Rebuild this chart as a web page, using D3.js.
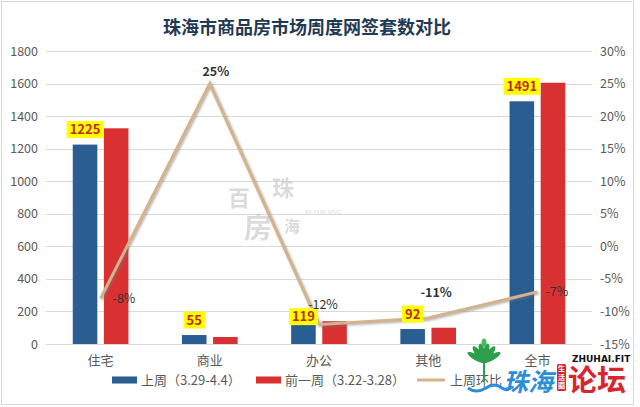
<!DOCTYPE html>
<html>
<head>
<meta charset="utf-8">
<script src="https://cdn.jsdelivr.net/npm/d3@7"></script>
<style>
  html, body { margin: 0; padding: 0; background: #fff; }
  svg text { font-family: "Noto Sans CJK SC", "Noto Sans", sans-serif; }
</style>
</head>
<body>
<div id="chart"></div>
<script>
// data
const categories = ["住宅", "商业", "办公", "其他", "全市"];
const thisWeek = [1225, 55, 119, 92, 1491];
const lastWeek = [1325, 43, 140, 100, 1605];
const weekChange = [-0.08, 0.25, -0.12, -0.11, -0.07];
const leftTicks = [0, 200, 400, 600, 800, 1000, 1200, 1400, 1600, 1800];
const rightTicks = [-0.15, -0.10, -0.05, 0, 0.05, 0.10, 0.15, 0.20, 0.25, 0.30];
const seriesNames = ["上周（3.29-4.4）", "前一周（3.22-3.28）", "上周环比"];
const title = "珠海市商品房市场周度网签套数对比";

const W = 640, H = 407;
const plot = {left: 46, right: 592, top: 51, bottom: 344};
const blue = "#2a5d90", red = "#d93132", tan = "#d3b38c";
const axisGrey = "#595959", gridGrey = "#d9d9d9";

const svg = d3.select("#chart")
    .append("svg")
    .attr("width", W)
    .attr("height", H);

// shadow for the line
const defs = svg.append("defs");
const f = defs.append("filter").attr("id", "shadow")
    .attr("x", "-10%").attr("y", "-10%").attr("width", "120%").attr("height", "120%");
f.append("feDropShadow").attr("dx", 1.2).attr("dy", 1.2).attr("stdDeviation", 0.8)
    .attr("flood-color", "#777").attr("flood-opacity", 0.6);

// frame
svg.append("rect")
    .attr("x", 1.5).attr("y", 1.5)
    .attr("width", 632).attr("height", 403)
    .attr("fill", "#fff")
    .attr("stroke", gridGrey);

// title
svg.append("text")
    .attr("x", 307).attr("y", 34)
    .attr("text-anchor", "middle")
    .attr("font-size", 18)
    .attr("font-weight", "bold")
    .attr("fill", "#1f3a55")
    .text(title);

// scales
const x = d3.scaleBand()
    .domain(categories)
    .range([plot.left, plot.right])
    .paddingInner(0.49)
    .paddingOuter(0.245);

const xSub = d3.scaleBand()
    .domain([0, 1])
    .range([0, x.bandwidth()])
    .paddingInner(0.21);

const yLeft = d3.scaleLinear().domain([0, 1800]).range([plot.bottom, plot.top]);
const yRight = d3.scaleLinear().domain([-0.15, 0.30]).range([plot.bottom, plot.top]);

// gridlines
svg.append("g")
    .selectAll("line")
    .data(leftTicks)
    .join("line")
    .attr("x1", plot.left).attr("x2", plot.right)
    .attr("y1", d => Math.round(yLeft(d)) + 0.5)
    .attr("y2", d => Math.round(yLeft(d)) + 0.5)
    .attr("stroke", gridGrey)
    .attr("stroke-width", 1);

// left axis
const leftAxis = svg.append("g")
    .attr("transform", `translate(${plot.left - 8},0)`)
    .call(d3.axisLeft(yLeft).tickValues(leftTicks).tickSize(0).tickPadding(0)
        .tickFormat(d3.format("d")));
leftAxis.select(".domain").remove();
leftAxis.selectAll("text")
    .attr("font-size", 12.5)
    .attr("fill", axisGrey)
    .style("font-family", "'Noto Sans CJK SC', sans-serif");

// right axis
const rightAxis = svg.append("g")
    .attr("transform", `translate(${plot.right + 8},0)`)
    .call(d3.axisRight(yRight).tickValues(rightTicks).tickSize(0).tickPadding(0)
        .tickFormat(d => Math.round(d * 100) + "%"));
rightAxis.select(".domain").remove();
rightAxis.selectAll("text")
    .attr("font-size", 12.5)
    .attr("fill", axisGrey)
    .style("font-family", "'Noto Sans CJK SC', sans-serif");

// category axis
const bottomAxis = svg.append("g")
    .attr("transform", `translate(0,${plot.bottom})`)
    .call(d3.axisBottom(x).tickSize(0).tickPadding(12));
bottomAxis.select(".domain").remove();
bottomAxis.selectAll("text")
    .attr("font-size", 13)
    .attr("fill", axisGrey)
    .style("font-family", "'Noto Sans CJK SC', sans-serif");

// watermark in the middle
const wm = svg.append("g").attr("fill", "#cfcfcf").attr("opacity", 0.75)
    .attr("font-weight", "bold");
wm.append("text").attr("x", 228).attr("y", 206).attr("font-size", 22).text("百");
wm.append("text").attr("x", 244).attr("y", 238).attr("font-size", 28).text("房");
wm.append("text").attr("x", 272).attr("y", 196).attr("font-size", 22).text("珠");
wm.append("text").attr("x", 284).attr("y", 232).attr("font-size", 16).text("海");
wm.append("text").attr("x", 305).attr("y", 214).attr("font-size", 5)
    .attr("font-weight", "normal").text("BAI FANG NEWS");

// bars
const rows = categories.map((c, i) => ({cat: c, vals: [thisWeek[i], lastWeek[i]]}));
const groups = svg.append("g")
    .selectAll("g")
    .data(rows)
    .join("g")
    .attr("transform", d => `translate(${x(d.cat)},0)`);

groups.selectAll("rect")
    .data(d => d.vals.map((v, k) => ({k: k, v: v})))
    .join("rect")
    .attr("x", d => xSub(d.k))
    .attr("width", xSub.bandwidth())
    .attr("y", d => yLeft(d.v))
    .attr("height", d => plot.bottom - yLeft(d.v))
    .attr("fill", d => d.k === 0 ? blue : red);

// line (secondary axis)
const cx = c => x(c) + x.bandwidth() / 2;
const line = d3.line()
    .x((d, i) => cx(categories[i]))
    .y(d => yRight(d));

svg.append("path")
    .datum(weekChange)
    .attr("d", line)
    .attr("fill", "none")
    .attr("stroke", tan)
    .attr("stroke-width", 3)
    .attr("stroke-linejoin", "miter")
    .attr("filter", "url(#shadow)");

// yellow labels over this week's bars (the 办公 one sits lower, as in the original)
const boxLift = [15, 15, 8, 15, 15];
const labels = svg.append("g")
    .selectAll("g")
    .data(rows)
    .join("g")
    .attr("transform", (d, i) => `translate(${x(d.cat) + xSub(0) + xSub.bandwidth() / 2},${yLeft(d.vals[0]) - boxLift[i]})`);

labels.append("text")
    .attr("text-anchor", "middle")
    .attr("dy", "0.35em")
    .attr("font-size", 13)
    .attr("font-weight", "bold")
    .attr("fill", "#c0281c")
    .text(d => d.vals[0])
    .each(function () {
        const b = this.getBBox();
        d3.select(this.parentNode).insert("rect", "text")
            .attr("x", b.x - 3).attr("y", -8.5)
            .attr("width", b.width + 6).attr("height", 17)
            .attr("fill", "#ffff00");
    });

// percentage labels on the line: where each one sits relative to its point
const pctPlace = [
    {side: "right", dx: 12, dy: 0, bold: false},
    {side: "above", dx: 6, dy: -12, bold: true},
    {side: "above", dx: 4, dy: -20, bold: false},
    {side: "above", dx: 8, dy: -25, bold: true},
    {side: "right", dx: 8, dy: 0, bold: false}
];
svg.append("g")
    .selectAll("text")
    .data(weekChange)
    .join("text")
    .attr("x", (d, i) => cx(categories[i]) + pctPlace[i].dx)
    .attr("y", (d, i) => yRight(d) + pctPlace[i].dy)
    .attr("dy", "0.35em")
    .attr("text-anchor", (d, i) => pctPlace[i].side === "right" ? "start" : "middle")
    .attr("font-size", 12.5)
    .attr("font-weight", (d, i) => pctPlace[i].bold ? "bold" : "normal")
    .attr("fill", "#333")
    .text(d => Math.round(d * 100) + "%");

// legend
const legend = svg.append("g").attr("transform", "translate(0,380)");
const legendItems = [
    {name: seriesNames[0], x: 112, kind: "bar", color: blue},
    {name: seriesNames[1], x: 256, kind: "bar", color: red},
    {name: seriesNames[2], x: 417, kind: "line", color: tan}
];
legendItems.forEach(it => {
    if (it.kind === "bar") {
        legend.append("rect").attr("x", it.x).attr("y", -3.5)
            .attr("width", 25).attr("height", 7).attr("fill", it.color);
    } else {
        legend.append("line").attr("x1", it.x).attr("x2", it.x + 28)
            .attr("y1", 0).attr("y2", 0)
            .attr("stroke", it.color).attr("stroke-width", 3);
    }
    legend.append("text")
        .attr("x", it.x + (it.kind === "bar" ? 29 : 33))
        .attr("y", 0).attr("dy", "0.35em")
        .attr("font-size", 13)
        .attr("fill", axisGrey)
        .text(it.name);
});

// site logo, bottom right
const logo = svg.append("g");
const plant = logo.append("g").attr("transform", "translate(484,362)");
[-60, -35, -12, 12, 35, 60].forEach(a => {
    plant.append("ellipse")
        .attr("cx", 0).attr("cy", -9).attr("rx", 3).attr("ry", 10)
        .attr("fill", "#2e9e4a")
        .attr("transform", `rotate(${a})`);
});
plant.append("ellipse").attr("cx", 0).attr("cy", -19).attr("rx", 2.5).attr("ry", 4.5).attr("fill", "#4cb85d");
plant.append("rect").attr("x", -1).attr("y", 0).attr("width", 2).attr("height", 20).attr("fill", "#2e9e4a");
logo.append("path")
    .attr("d", "M468,388 q8,6 18,0 q8,-6 16,0 q6,4 10,-2")
    .attr("fill", "none").attr("stroke", "#2d8ed6").attr("stroke-width", 3);
logo.append("text")
    .attr("x", 503).attr("y", 391)
    .attr("font-size", 25).attr("font-weight", "bold").attr("font-style", "italic")
    .attr("fill", "#2d8ed6")
    .text("珠海");
logo.append("rect").attr("x", 557).attr("y", 364).attr("width", 9).attr("height", 27)
    .attr("rx", 1.5).attr("fill", "#d8262e");
["生", "活", "圈"].forEach((ch, i) => {
    logo.append("text").attr("x", 561.5).attr("y", 371 + i * 8.5)
        .attr("text-anchor", "middle").attr("font-size", 7).attr("font-weight", "bold")
        .attr("fill", "#fff").text(ch);
});
logo.append("text")
    .attr("x", 568).attr("y", 391)
    .attr("font-size", 29).attr("font-weight", "bold")
    .attr("fill", "#d8262e")
    .text("论坛");
logo.append("text")
    .attr("x", 572).attr("y", 362)
    .attr("font-size", 9).attr("font-weight", "bold")
    .attr("fill", "#111")
    .style("font-family", "'DejaVu Sans', sans-serif")
    .text("ZHUHAI.FIT");
</script>
</body>
</html>
